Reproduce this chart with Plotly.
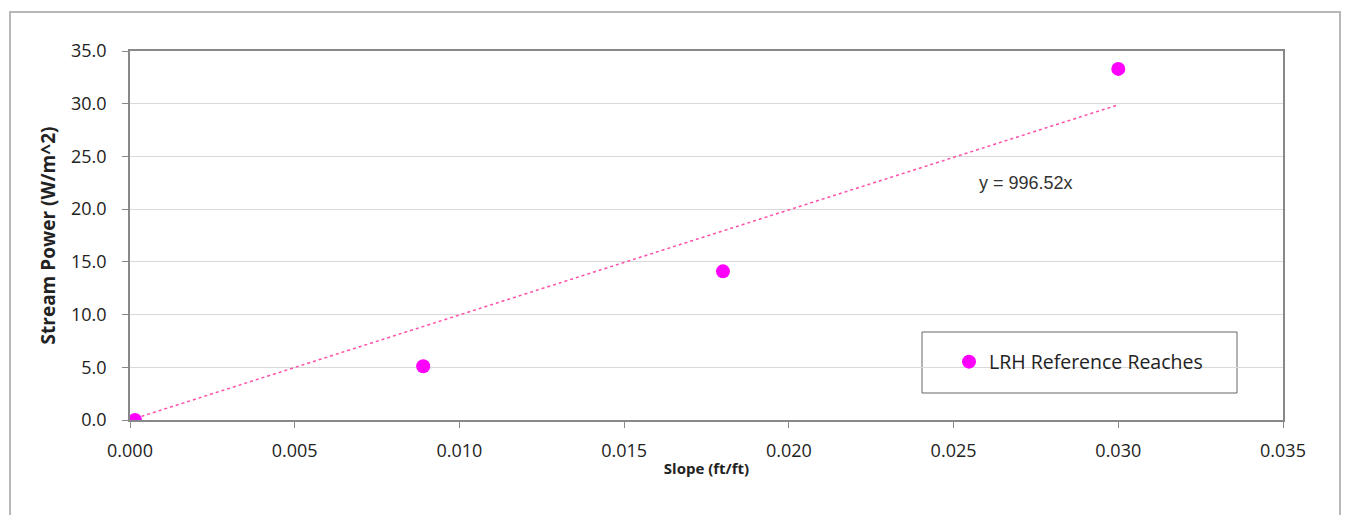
import plotly.graph_objects as go

slope_x = [0.00015, 0.0089, 0.018, 0.030]
power_y = [0.0, 5.1, 14.1, 33.3]
trend_slope = 996.52
trend_x = [0.0, 0.030]
series_name = "LRH Reference Reaches"
equation = "y = 996.52x"
x_ticks = [0.000, 0.005, 0.010, 0.015, 0.020, 0.025, 0.030, 0.035]
y_ticks = [0.0, 5.0, 10.0, 15.0, 20.0, 25.0, 30.0, 35.0]

fig = go.Figure()
fig.add_trace(go.Scatter(
    x=trend_x, y=[trend_slope * v for v in trend_x], mode="lines",
    line=dict(color="#FF4FA8", width=1.5, dash="dot"), showlegend=False, hoverinfo="skip"))
fig.add_trace(go.Scatter(
    x=slope_x, y=power_y, mode="markers", name=series_name,
    marker=dict(color="#FF00FF", size=14)))

fig.add_annotation(x=0.0272, y=22.5, text=equation, showarrow=False,
                   font=dict(family="Arial, Liberation Sans", size=18, color="#333333"))

PL, PT, PW, PH = 130, 51, 1153, 369
# legend box
fig.add_shape(type="rect", xref="paper", yref="paper",
              x0=(922-PL)/PW, x1=(1237-PL)/PW,
              y0=(PT+PH-393)/PH, y1=(PT+PH-332)/PH,
              line=dict(color="#666666", width=1), fillcolor="white", layer="below")
# outer chart border
fig.add_shape(type="rect", xref="paper", yref="paper",
              x0=(10-PL)/PW, x1=(1340-PL)/PW,
              y0=-0.35, y1=1+(PT-12)/PH,
              line=dict(color="#b8b8b8", width=2), layer="below")

font_fam = "Open Sans, Noto Sans, sans-serif"
fig.update_layout(
    width=1351, height=515,
    margin=dict(l=122, r=76, t=43, b=103),
    paper_bgcolor="white", plot_bgcolor="white",
    font=dict(family=font_fam, color="#222222"),
    legend=dict(x=(949-PL)/PW, y=(PT+PH-362)/PH, xanchor="left", yanchor="middle",
                bgcolor="rgba(0,0,0,0)", borderwidth=0, font=dict(size=19.5, color="#222222")),
    xaxis=dict(range=[0, 0.035], tickvals=x_ticks, tickformat=".3f",
               showgrid=False, zeroline=False,
               showline=True, linecolor="#888888", linewidth=1.5, mirror=True,
               ticks="outside", ticklen=6, tickcolor="#888888",
               tickfont=dict(size=18), ticklabelstandoff=8,
               title=dict(text="<b>Slope (ft/ft)</b>", font=dict(size=15), standoff=2)),
    yaxis=dict(range=[0, 35], tickvals=y_ticks, tickformat=".1f",
               showgrid=True, gridcolor="#d9d9d9", gridwidth=1, zeroline=False,
               showline=True, linecolor="#888888", linewidth=1.5, mirror=True,
               ticks="outside", ticklen=6, tickcolor="#888888",
               tickfont=dict(size=18), ticklabelstandoff=12,
               title=dict(text="<b>Stream Power (W/m^2)</b>", font=dict(size=19), standoff=10)),
)

fig.write_html("out.html")
